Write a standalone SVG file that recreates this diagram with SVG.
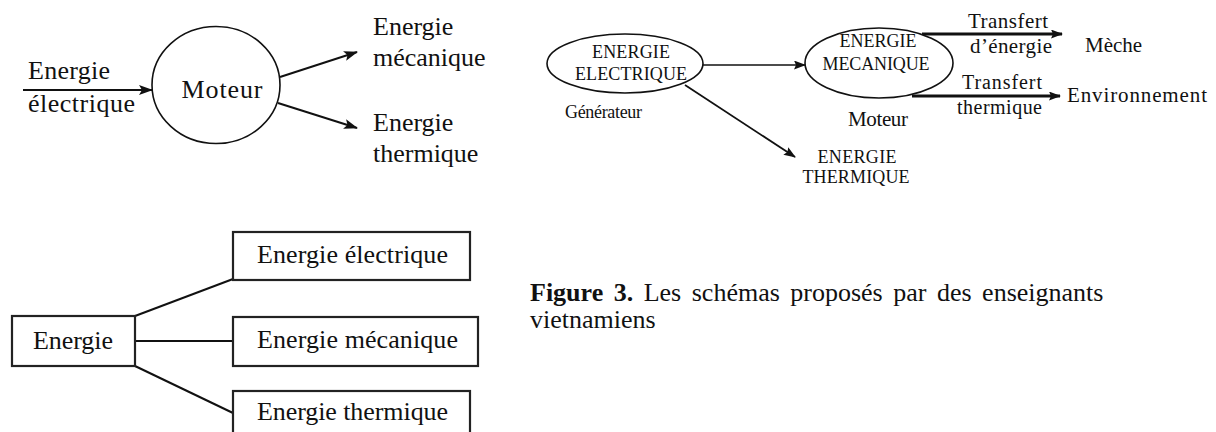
<svg xmlns="http://www.w3.org/2000/svg" width="1216" height="432" viewBox="0 0 1216 432">
<style>
text{font-family:"Liberation Serif","Times New Roman",serif;fill:#111}
.t26{font-size:26px}
.t21{font-size:21px}
.t20{font-size:20px}
.t18{font-size:18px}
.ln{stroke:#111;fill:none}
.box{fill:#fff;stroke:#222;stroke-width:2.2}
.ell{fill:#fff;stroke:#111;stroke-width:1.6}
</style>
<defs>
<marker id="arr" viewBox="0 0 14 10" refX="13" refY="5" markerWidth="14" markerHeight="10" markerUnits="userSpaceOnUse" orient="auto"><path d="M0,0 L14,5 L0,10 L3,5 z" fill="#111"/></marker>
<marker id="arrs" viewBox="0 0 12 9" refX="11" refY="4.5" markerWidth="12" markerHeight="9" markerUnits="userSpaceOnUse" orient="auto"><path d="M0,0 L12,4.5 L0,9 L2,4.5 z" fill="#111"/></marker>
</defs>
<rect width="1216" height="432" fill="#fff"/>

<g id="connectors">
<line class="ln" x1="23" y1="90" x2="152" y2="90" stroke-width="2.2" marker-end="url(#arr)"/>
<line class="ln" x1="280" y1="77" x2="357" y2="52" stroke-width="2" marker-end="url(#arr)"/>
<line class="ln" x1="278" y1="103" x2="357" y2="128" stroke-width="2" marker-end="url(#arr)"/>
<line class="ln" x1="703" y1="65" x2="805" y2="65" stroke-width="1.6" marker-end="url(#arrs)"/>
<line class="ln" x1="685" y1="85" x2="795" y2="157" stroke-width="1.8" marker-end="url(#arrs)"/>
<line class="ln" x1="922" y1="34" x2="1062" y2="34" stroke-width="3" marker-end="url(#arrs)"/>
<line class="ln" x1="912" y1="96" x2="1060" y2="96" stroke-width="3" marker-end="url(#arrs)"/>
<line class="ln" x1="135" y1="316" x2="233" y2="279" stroke-width="2"/>
<line class="ln" x1="135" y1="341" x2="233" y2="341" stroke-width="2"/>
<line class="ln" x1="135" y1="366" x2="233" y2="413" stroke-width="2"/>
</g>

<g id="label-energie-electrique-in">
<text class="t26" x="28" y="79" textLength="82">Energie</text>
<text class="t26" x="28" y="112" textLength="107">électrique</text>
</g>
<g id="node-moteur">
<ellipse class="ell" cx="216" cy="85" rx="64" ry="58.5"/>
<text class="t26" x="222" y="98" text-anchor="middle" textLength="81">Moteur</text>
</g>
<g id="label-energie-mecanique">
<text class="t26" x="373" y="35">Energie</text>
<text class="t26" x="373" y="66">mécanique</text>
</g>
<g id="label-energie-thermique">
<text class="t26" x="373" y="131">Energie</text>
<text class="t26" x="373" y="162">thermique</text>
</g>

<g id="node-generateur">
<ellipse class="ell" cx="625" cy="63.5" rx="78" ry="29.5"/>
<text class="t18" x="631" y="58" text-anchor="middle" textLength="78">ENERGIE</text>
<text class="t18" x="631" y="80" text-anchor="middle" textLength="112">ELECTRIQUE</text>
<text class="t18" x="565" y="118" textLength="77">Générateur</text>
</g>
<g id="node-moteur2">
<ellipse class="ell" cx="879" cy="63" rx="74" ry="35"/>
<text class="t18" x="878" y="47" text-anchor="middle" textLength="77">ENERGIE</text>
<text class="t18" x="876" y="70" text-anchor="middle" textLength="107">MECANIQUE</text>
<text class="t21" x="848" y="126" textLength="60">Moteur</text>
</g>
<g id="node-energie-thermique2">
<text class="t18" x="857" y="163" text-anchor="middle" textLength="79">ENERGIE</text>
<text class="t18" x="856" y="183" text-anchor="middle" textLength="107">THERMIQUE</text>
</g>
<g id="label-transfert-energie">
<text class="t21" x="968" y="28" textLength="80">Transfert</text>
<text class="t21" x="970" y="53" textLength="82">d’énergie</text>
</g>
<g id="node-meche">
<text class="t21" x="1085" y="52" textLength="57">Mèche</text>
</g>
<g id="label-transfert-thermique">
<text class="t20" x="962" y="89" textLength="80">Transfert</text>
<text class="t20" x="957" y="114" textLength="85">thermique</text>
</g>
<g id="node-environnement">
<text class="t21" x="1067" y="102" textLength="140">Environnement</text>
</g>

<g id="node-energie">
<rect class="box" x="12" y="316" width="123" height="50"/>
<text class="t26" x="33" y="349" textLength="80">Energie</text>
</g>
<g id="node-energie-electrique">
<rect class="box" x="233" y="232" width="237" height="48"/>
<text class="t26" x="257" y="263" textLength="191">Energie électrique</text>
</g>
<g id="node-energie-mecanique">
<rect class="box" x="233" y="317" width="245" height="49"/>
<text class="t26" x="257" y="348" textLength="201">Energie mécanique</text>
</g>
<g id="node-energie-thermique">
<rect class="box" x="233" y="391" width="237" height="48"/>
<text class="t26" x="257" y="420" textLength="191">Energie thermique</text>
</g>

<g id="caption">
<text class="t26" x="530" y="301" word-spacing="4"><tspan font-weight="bold">Figure 3.</tspan> Les schémas proposés par des enseignants</text>
<text class="t26" x="530" y="328">vietnamiens</text>
</g>
</svg>
